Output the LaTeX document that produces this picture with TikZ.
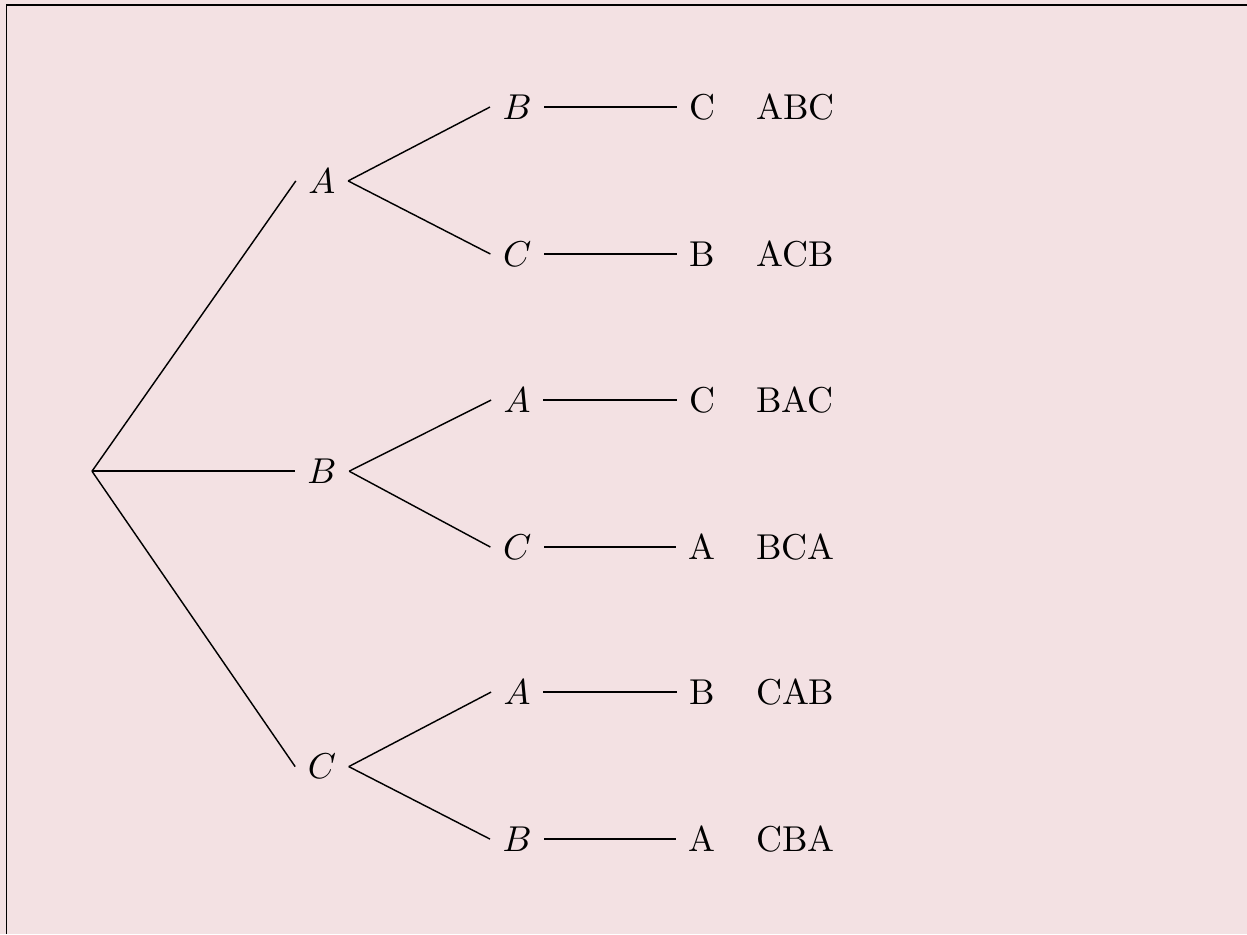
\documentclass[tikz,border=0pt]{standalone}
\usepackage{xcolor}
\definecolor{bgpink}{RGB}{243,225,227}

\begin{document}
\begin{tikzpicture}[
  branch/.style={draw, line width=0.4pt},
  pick/.style={inner sep=3.33pt},
  word/.style={inner sep=3.33pt}
]
  % Canvas and frame
  \fill[bgpink] (0,0) rectangle (12.2,-9.14);
  \useasboundingbox (0,0) rectangle (12.2,-9.14);
  \draw[line width=0.5pt] (12.2,-0.049) -- (0.064,-0.049) -- (0.064,-9.14);

  % Root
  \coordinate (r) at (0.90,-4.61);

  % First choice
  \node[pick] (a) at (3.15,-1.77) {$A$};
  \node[pick] (b) at (3.15,-4.61) {$B$};
  \node[pick] (c) at (3.15,-7.50) {$C$};

  % Second choice
  \node[pick] (ab) at (5.06,-1.047) {$B$};
  \node[pick] (ac) at (5.06,-2.485) {$C$};
  \node[pick] (ba) at (5.06,-3.914) {$A$};
  \node[pick] (bc) at (5.06,-5.352) {$C$};
  \node[pick] (ca) at (5.06,-6.771) {$A$};
  \node[pick] (cb) at (5.06,-8.209) {$B$};

  % Last choice
  \node[pick] (abc) at (6.87,-1.047) {C};
  \node[pick] (acb) at (6.87,-2.485) {B};
  \node[pick] (bac) at (6.87,-3.914) {C};
  \node[pick] (bca) at (6.87,-5.352) {A};
  \node[pick] (cab) at (6.87,-6.771) {B};
  \node[pick] (cba) at (6.87,-8.209) {A};

  % Resulting orders
  \node[word] (w1) at (7.78,-1.047) {ABC};
  \node[word] (w2) at (7.78,-2.485) {ACB};
  \node[word] (w3) at (7.78,-3.914) {BAC};
  \node[word] (w4) at (7.78,-5.352) {BCA};
  \node[word] (w5) at (7.78,-6.771) {CAB};
  \node[word] (w6) at (7.78,-8.209) {CBA};

  % Branches
  \draw[branch] (r) -- (a.west);
  \draw[branch] (r) -- (b.west);
  \draw[branch] (r) -- (c.west);
  \draw[branch] (a.east) -- (ab.west);
  \draw[branch] (a.east) -- (ac.west);
  \draw[branch] (b.east) -- (ba.west);
  \draw[branch] (b.east) -- (bc.west);
  \draw[branch] (c.east) -- (ca.west);
  \draw[branch] (c.east) -- (cb.west);
  \draw[branch] (ab.east) -- (abc.west);
  \draw[branch] (ac.east) -- (acb.west);
  \draw[branch] (ba.east) -- (bac.west);
  \draw[branch] (bc.east) -- (bca.west);
  \draw[branch] (ca.east) -- (cab.west);
  \draw[branch] (cb.east) -- (cba.west);
\end{tikzpicture}
\end{document}
